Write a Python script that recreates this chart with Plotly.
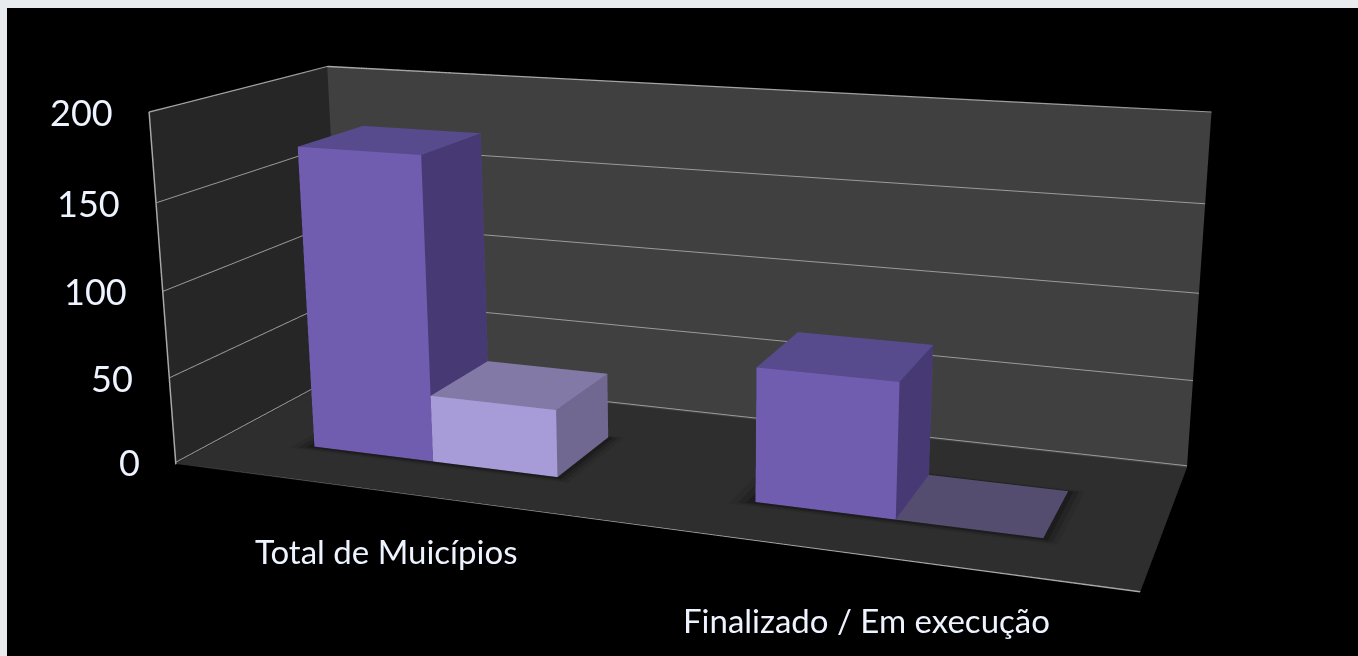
import plotly.graph_objects as go

categories = ["Total de Muicípios", "Finalizado / Em execução"]
series_a = [176, 75]
series_b = [39, 0]
z_ticks = [0, 50, 100, 150, 200]

FIG_W = 1364
FIG_H = 1637
TOP = FIG_H // 2 - 332

bar_w = 1 / 3.5
x_nudge = 0.008
d0, d1 = 0.27, 0.66
NOLIGHT = dict(ambient=1, diffuse=0, specular=0, fresnel=0, roughness=1)


def bar_trace(x0, x1, h, cols):
    xs = [x0, x1, x1, x0, x0, x1, x1, x0]
    ys = [d0, d0, d1, d1, d0, d0, d1, d1]
    zs = [0, 0, 0, 0, h, h, h, h]
    I = [0, 0, 4, 4, 1, 1, 0, 0, 3, 3, 0, 0]
    J = [1, 5, 5, 6, 2, 6, 3, 7, 2, 6, 1, 2]
    K = [5, 4, 6, 7, 6, 5, 7, 4, 6, 7, 2, 3]
    fc = [cols[0]] * 2 + [cols[1]] * 2 + [cols[2]] * 2 + [cols[2]] * 2 + [cols[1]] * 2 + [cols[1]] * 2
    return go.Mesh3d(x=xs, y=ys, z=zs, i=I, j=J, k=K, facecolor=fc, flatshading=True,
                     hoverinfo="skip", lighting=NOLIGHT)


def flat(x0, x1, y0, y1, z, c):
    return go.Mesh3d(x=[x0, x1, x1, x0], y=[y0, y0, y1, y1], z=[z] * 4, i=[0, 0], j=[1, 2], k=[2, 3],
                     color=c, flatshading=True, hoverinfo="skip", lighting=NOLIGHT)


fig = go.Figure()
A_COL = ("#705db0", "#574a8d", "#473a74")
B_COL = ("#a89cd8", "#8279a7", "#706891")
SHADOW = [(1.0, -0.8, "#2a2a2a"), (0.66, -0.6, "#242424"), (0.33, -0.4, "#1c1c1c")]
for c in range(2):
    mid = c + 0.5 + x_nudge
    x0 = mid - bar_w
    x1 = mid + bar_w
    for m, z, col in SHADOW:
        fig.add_trace(flat(x0 - 0.05 * m, x1 + 0.03 * m, d0 - 0.025 * m, d1 + 0.025 * m, z, col))
    fig.add_trace(bar_trace(x0, mid, series_a[c], A_COL))
    if series_b[c] > 0:
        fig.add_trace(bar_trace(mid, x1, series_b[c], B_COL))
    else:
        fig.add_trace(flat(mid, x1, d0, d1, 0, "#554d6f"))

fig.add_trace(go.Scatter3d(x=[2, 0, 0, 0, 2], y=[0, 0, 0, 1, 1], z=[-1, -1, 200, 200, 200], mode="lines",
                           line=dict(color="#a8a8a8", width=3), hoverinfo="skip"))

TXT = "#eef4ff"
FONT = "Lato"
ann = []
for t in z_ticks:
    ann.append(dict(x=0, y=0, z=t, text=str(t), showarrow=False, xanchor="right", xshift=-34, yshift=0,
                    font=dict(color=TXT, size=36, family=FONT)))
ann.append(dict(x=0.5, y=0, z=-1, text=categories[0], showarrow=False, xshift=0, yshift=-59,
                font=dict(color=TXT, size=33, family=FONT)))
ann.append(dict(x=1.5, y=0, z=-1, text=categories[1], showarrow=False, xshift=1, yshift=-65,
                font=dict(color=TXT, size=33, family=FONT)))

hid = dict(showticklabels=False, showgrid=False, zeroline=False, showline=False, ticks="", title="",
           showspikes=False, showbackground=True)
fig.update_layout(
    width=FIG_W, height=FIG_H, paper_bgcolor="#000", margin=dict(l=0, r=0, t=0, b=0), showlegend=False,
    scene=dict(
        bgcolor="#000", domain=dict(x=[0, 1], y=[0, 1]), dragmode=False,
        aspectmode="manual", aspectratio=dict(x=1, y=0.3497, z=0.3730),
        camera=dict(eye=dict(x=0.6871, y=-1.8323, z=0.5024),
                    center=dict(x=-0.4949, y=1.3383, z=-0.4384),
                    up=dict(x=0.0026, y=0.0021, z=1)),
        xaxis=dict(range=[0, 2], backgroundcolor="#262626", **hid),
        yaxis=dict(range=[0, 1], backgroundcolor="#404040", **hid),
        zaxis=dict(range=[-1, 200], backgroundcolor="#2e2e2e", **{**hid, "showgrid": True}, tickvals=z_ticks,
                   gridcolor="#9a9a9a", gridwidth=2),
        annotations=ann,
    ),
)
post = f"""
var gd=document.querySelector('.plotly-graph-div');
document.documentElement.style.overflow='hidden';document.documentElement.style.height='656px';
document.body.style.cssText='margin:0;overflow:hidden;height:656px;background:#e8ecee';
gd.style.position='absolute';gd.style.left='0';gd.style.top='-{TOP}px';
gd.style.clipPath='inset({TOP + 8}px 0 0 7px)';
"""
fig.write_html("out.html", post_script=post)
